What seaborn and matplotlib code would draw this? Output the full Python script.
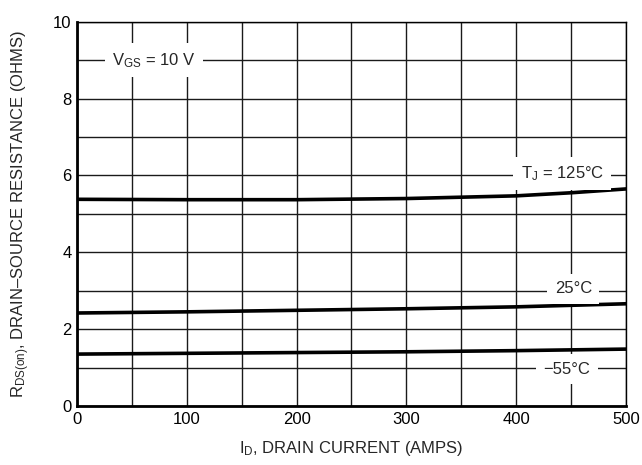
import pandas as pd
import numpy as np
import matplotlib.pyplot as plt
import seaborn as sns

# drain current (A) and on-resistance (ohms)
current = [0, 100, 200, 300, 400, 450, 500]
r_125c = [5.38, 5.37, 5.37, 5.40, 5.47, 5.55, 5.65]
r_25c = [2.42, 2.45, 2.49, 2.53, 2.58, 2.62, 2.66]
r_m55c = [1.35, 1.37, 1.39, 1.41, 1.44, 1.46, 1.48]

temps = ['125', '25', '-55']
x_ticks = [0, 100, 200, 300, 400, 500]
y_ticks = [0, 2, 4, 6, 8, 10]

df = pd.DataFrame({
    'I_D': current * 3,
    'R': r_125c + r_25c + r_m55c,
    'T_J': [temps[0]] * len(current) + [temps[1]] * len(current) + [temps[2]] * len(current),
})

sns.set_style('white')
plt.rcParams['font.family'] = ['Liberation Sans', 'DejaVu Sans']
plt.rcParams['mathtext.fontset'] = 'custom'
plt.rcParams['mathtext.rm'] = 'Liberation Sans'
plt.rcParams['mathtext.it'] = 'Liberation Sans'

fig = plt.figure(figsize=(6.42, 4.65), dpi=100)
ax = fig.add_axes([0.12, 0.127, 0.855, 0.826])

sns.lineplot(data=df, x='I_D', y='R', hue='T_J', palette=['black'] * 3,
             linewidth=2.6, legend=False, ax=ax, zorder=4)

ax.set_xlim(0, 500)
ax.set_ylim(0, 10)
ax.set_xticks(x_ticks)
ax.set_yticks(y_ticks)
ax.set_xticks(np.arange(0, 501, 50), minor=True)
ax.set_yticks(np.arange(0, 11, 1), minor=True)
ax.grid(which='both', color='#1a1a1a', linewidth=1.0)
fs = 12
ax.tick_params(which='both', length=0, labelsize=fs, colors='black', pad=4)

for side in ['top', 'right']:
    ax.spines[side].set_linewidth(1.0)
for side in ['left', 'bottom']:
    ax.spines[side].set_linewidth(2.0)
for s in ax.spines.values():
    s.set_color('black')
    s.set_zorder(5)

box = dict(facecolor='white', edgecolor='none', boxstyle='square,pad=0.45')
ax.text(70, 9, r'V$_{\mathrm{GS}}$ = 10 V', fontsize=fs, ha='center', va='center', bbox=box, zorder=6)
ax.text(442, 6.05, r'T$_{\mathrm{J}}$ = 125°C', fontsize=fs, ha='center', va='center', bbox=box, zorder=6)
ax.text(452, 3.05, '25°C', fontsize=fs, ha='center', va='center', bbox=box, zorder=6)
ax.text(446, 0.95, '\u221255°C', fontsize=fs, ha='center', va='center', bbox=box, zorder=6)

ax.set_xlabel(r'I$_{\mathrm{D}}$, DRAIN CURRENT (AMPS)', fontsize=fs, labelpad=9)
ax.set_ylabel(r'R$_{\mathrm{DS(on)}}$, DRAIN' + '\u2013' + 'SOURCE RESISTANCE (OHMS)', fontsize=fs, labelpad=15)

fig.savefig('out.png', dpi=100)
